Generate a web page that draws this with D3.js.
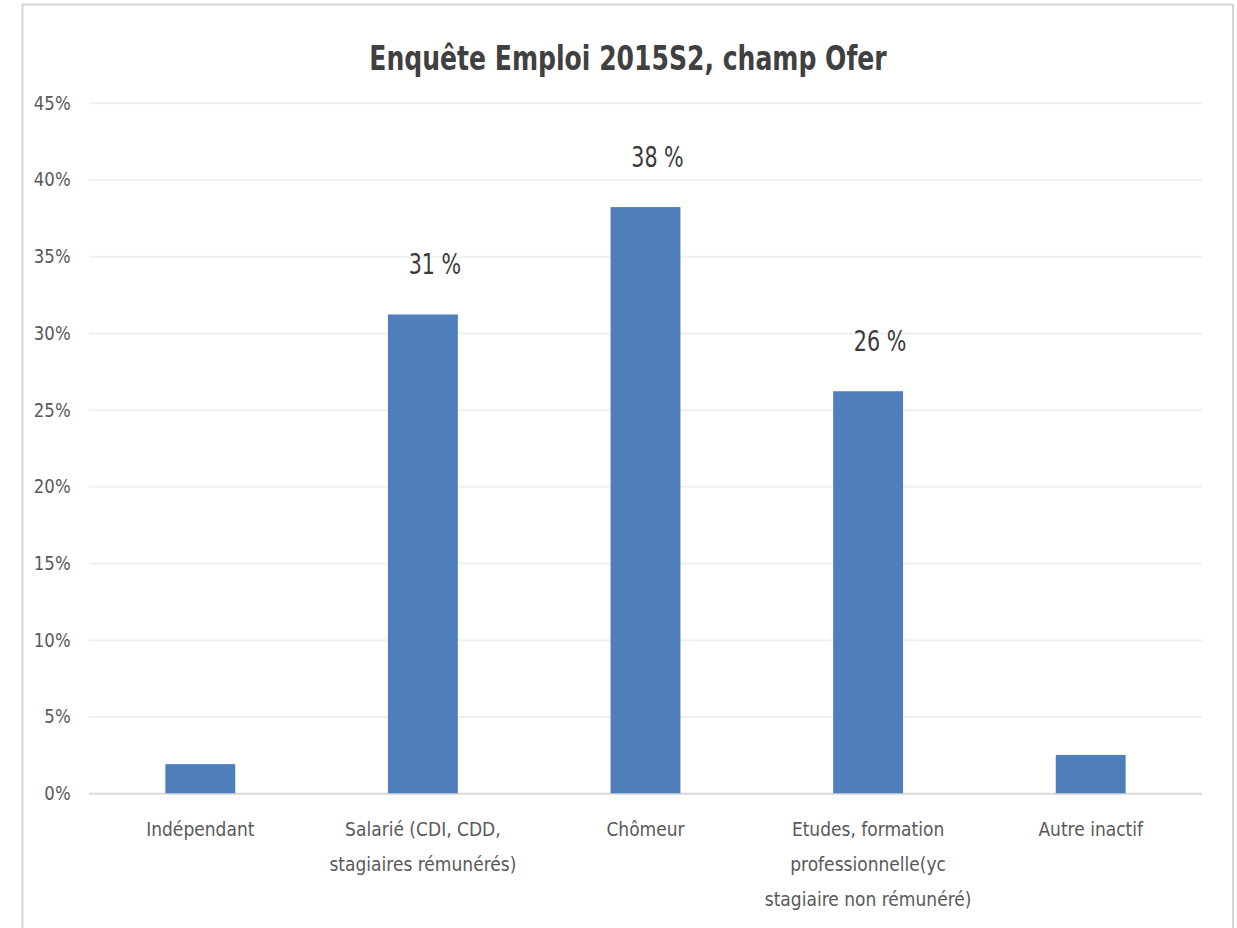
<!DOCTYPE html>
<html>
<head>
<meta charset="utf-8">
<script src="https://cdn.jsdelivr.net/npm/d3@7"></script>
<style>
  html, body { margin: 0; padding: 0; background: #ffffff; }
  svg { display: block; }
  text { font-family: "Liberation Sans Narrow", "DejaVu Sans Condensed", "Roboto Condensed", sans-serif; }
</style>
</head>
<body>
<svg id="chart" width="1237" height="928"></svg>
<script>
// ---- data ----
const title = "Enquête Emploi 2015S2, champ Ofer";
const categories = ["Indépendant", "Salarié", "Chômeur", "Etudes", "Autre inactif"];
const categoryLabels = [
  ["Indépendant"],
  ["Salarié (CDI, CDD,", "stagiaires rémunérés)"],
  ["Chômeur"],
  ["Etudes, formation", "professionnelle(yc", "stagiaire non rémunéré)"],
  ["Autre inactif"]
];
const values = [0.019, 0.312, 0.382, 0.262, 0.025];
const dataLabels = [null, "31 %", "38 %", "26 %", null];
const yTicks = [0, 0.05, 0.10, 0.15, 0.20, 0.25, 0.30, 0.35, 0.40, 0.45];

// ---- layout ----
const svg = d3.select("#chart");
const W = 1237, H = 928;
const plot = { left: 89, right: 1202, top: 102.7, bottom: 793.3 };
const narrow = 0.82; // horizontal compression to mimic a condensed face

// chart frame
svg.append("rect")
  .attr("x", 22.5).attr("y", 4.5)
  .attr("width", 1233 - 22.5).attr("height", H + 10)
  .attr("fill", "#ffffff")
  .attr("stroke", "#d4d4d4").attr("stroke-width", 2);

const x = d3.scaleBand()
  .domain(categories)
  .range([plot.left, plot.right])
  .paddingInner(0.686)
  .paddingOuter(0.343);

const y = d3.scaleLinear()
  .domain([0, 0.45])
  .range([plot.bottom, plot.top]);

// gridlines + y labels
const yAxis = d3.axisLeft(y)
  .tickValues(yTicks)
  .tickFormat(d3.format(".0%"))
  .tickSize(-(plot.right - plot.left))
  .tickPadding(20);

const gy = svg.append("g")
  .attr("transform", `translate(${plot.left},0)`)
  .call(yAxis);
gy.select(".domain").remove();
gy.selectAll(".tick line")
  .attr("stroke", d => d === 0 ? "#d9d9d9" : "#efefef")
  .attr("stroke-width", 2);
gy.selectAll(".tick text")
  .attr("fill", "#595959")
  .attr("transform", "scale(0.92,1)")
  .style("font-size", "20px");

// bars
svg.append("g").selectAll("rect")
  .data(values)
  .join("rect")
  .attr("x", (d, i) => x(categories[i]))
  .attr("width", x.bandwidth())
  .attr("y", d => y(d))
  .attr("height", d => y(0) - y(d))
  .attr("fill", "#4e7fbb");

// data labels
svg.append("g").selectAll("text")
  .data(values.map((v, i) => ({ v, i, t: dataLabels[i] })).filter(d => d.t))
  .join("text")
  .attr("transform", d => `translate(${x(categories[d.i]) + x.bandwidth() / 2 + 12},${y(d.v) - 40}) scale(${narrow},1)`)
  .attr("text-anchor", "middle")
  .attr("fill", "#3a3a3a")
  .style("font-size", "28px")
  .text(d => d.t);

// category labels
const xAxis = d3.axisBottom(x).tickSize(0).tickFormat(() => "");
const gx = svg.append("g")
  .attr("transform", `translate(0,${plot.bottom})`)
  .call(xAxis);
gx.select(".domain").remove();
gx.selectAll(".tick text").remove();
gx.selectAll(".tick").each(function(d, i) {
  const t = d3.select(this).append("text")
    .attr("text-anchor", "middle")
    .attr("fill", "#595959")
    .attr("transform", "scale(0.95,1)")
    .style("font-size", "20px");
  categoryLabels[i].forEach((line, k) => {
    t.append("tspan").attr("x", 0).attr("y", 43 + k * 35).text(line);
  });
});

// title
svg.append("text")
  .attr("transform", `translate(628,70) scale(${narrow},1)`)
  .attr("text-anchor", "middle")
  .attr("fill", "#404040")
  .style("font-size", "34px")
  .style("font-weight", "bold")
  .text(title);
</script>
</body>
</html>
